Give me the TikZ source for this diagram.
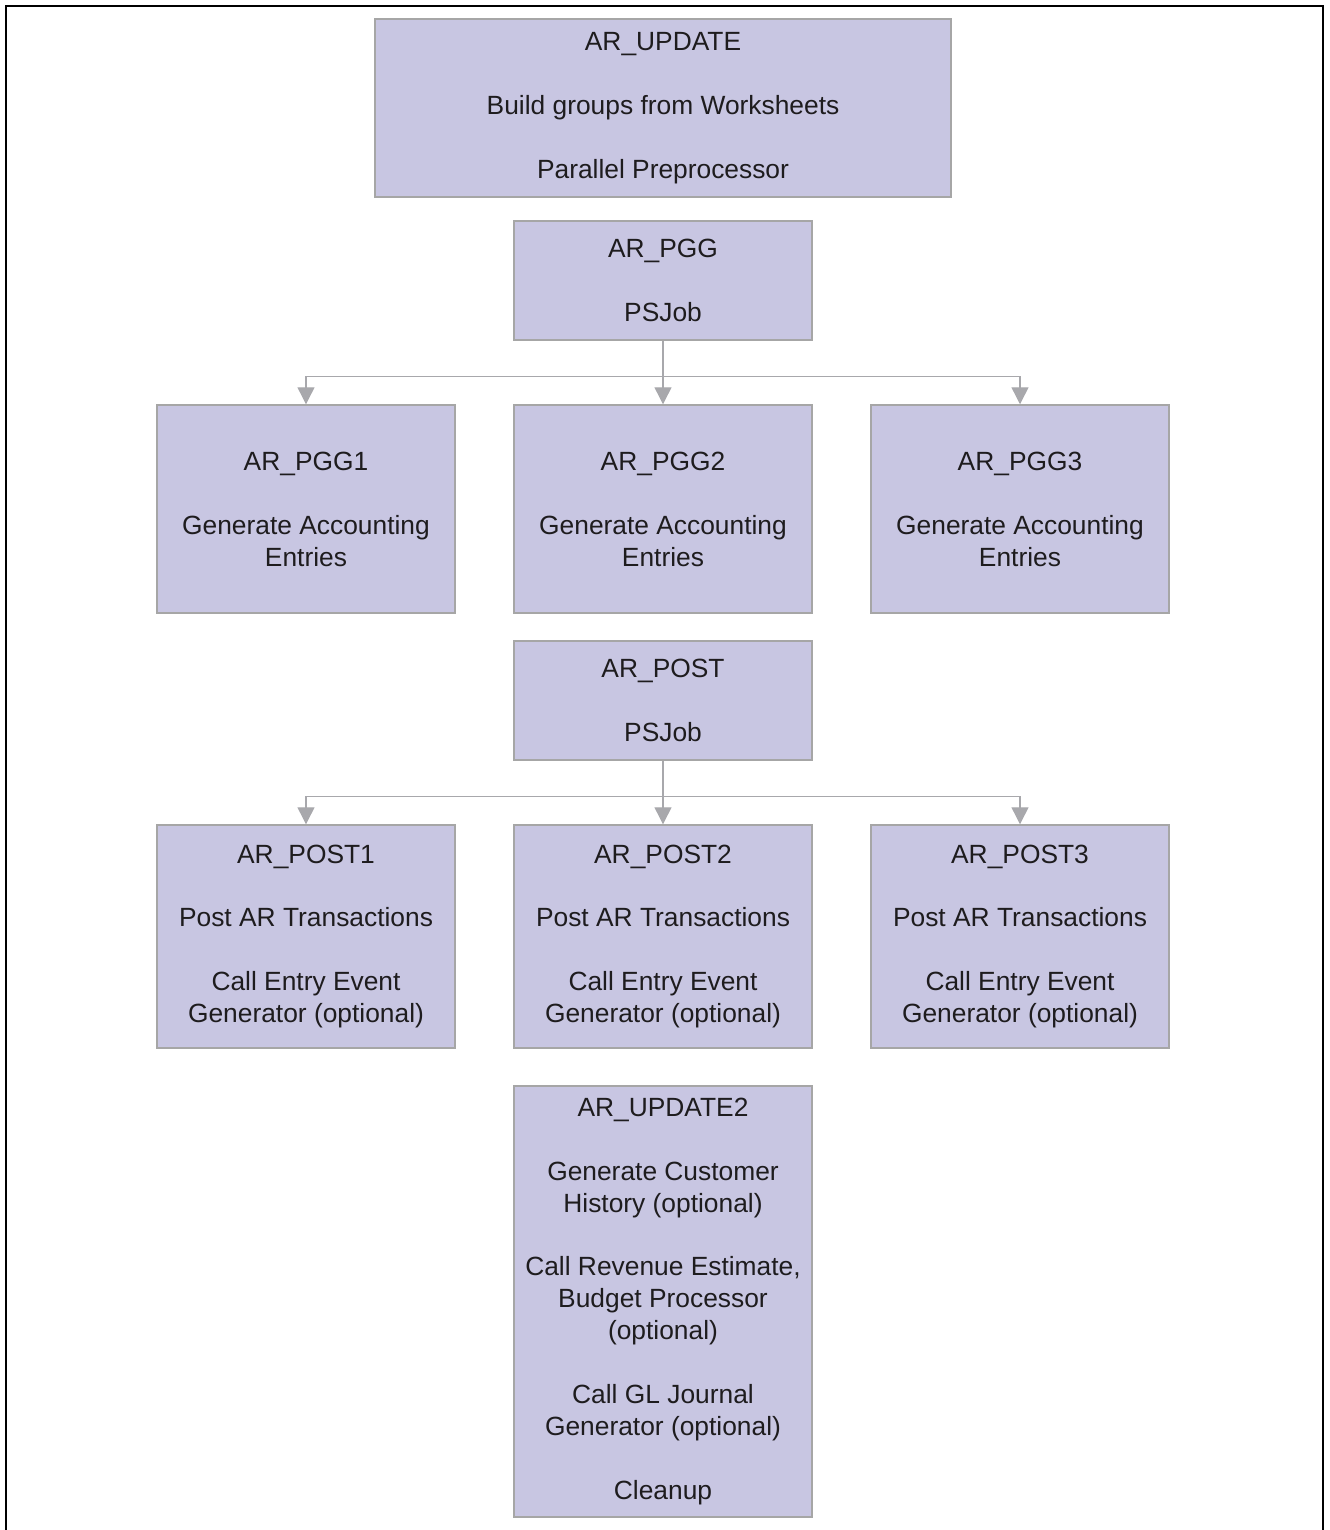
\documentclass[tikz,border=0pt]{standalone}
\usepackage{fontspec}
\setmainfont{Liberation Sans}
\usetikzlibrary{arrows.meta}
\definecolor{boxfill}{RGB}{200,198,226}
\definecolor{boxline}{RGB}{166,166,166}
\definecolor{arrline}{RGB}{168,168,172}
\definecolor{txt}{RGB}{30,28,30}
\def\gap{\\[18.2pt]}
\tikzset{
	job/.style={draw=boxline, line width=0.8pt, fill=boxfill, text=txt, align=center,
		font=\fontsize{15}{18.2}\selectfont, inner sep=0pt, minimum width=5.96cm},
	arr/.style={draw=arrline, line width=0.75pt, -{Triangle[length=0.34cm,width=0.34cm]}}
}

\begin{document}
\begin{tikzpicture}
		%%%%% START %%%%%
		\useasboundingbox (0, 0) rectangle (26.58, 30.6);
		\draw[line width=0.04cm] (0.12, 0) -- (0.12, 30.48) -- (26.46, 30.48) -- (26.46, 0);
		
		\node[job, minimum width=11.52cm, minimum height=3.56cm] (upd) at (13.26, 28.44)
			{AR\_UPDATE\gap Build groups from Worksheets\gap Parallel Preprocessor};
		
		\node[job, minimum height=2.38cm] (pgg) at (13.26, 24.99) {AR\_PGG\gap PSJob};
		
		\node[job, minimum height=4.16cm] (pgg1) at (6.12, 20.42) {AR\_PGG1\gap Generate Accounting\\Entries};
		\node[job, minimum height=4.16cm] (pgg2) at (13.26, 20.42) {AR\_PGG2\gap Generate Accounting\\Entries};
		\node[job, minimum height=4.16cm] (pgg3) at (20.40, 20.42) {AR\_PGG3\gap Generate Accounting\\Entries};
		
		\node[job, minimum height=2.38cm] (post) at (13.26, 16.59) {AR\_POST\gap PSJob};
		
		\node[job, minimum height=4.46cm] (post1) at (6.12, 11.87)
			{AR\_POST1\gap Post AR Transactions\gap Call Entry Event\\Generator (optional)};
		\node[job, minimum height=4.46cm] (post2) at (13.26, 11.87)
			{AR\_POST2\gap Post AR Transactions\gap Call Entry Event\\Generator (optional)};
		\node[job, minimum height=4.46cm] (post3) at (20.40, 11.87)
			{AR\_POST3\gap Post AR Transactions\gap Call Entry Event\\Generator (optional)};
		
		\node[job, minimum height=8.62cm] (upd2) at (13.26, 4.57)
			{AR\_UPDATE2\gap Generate Customer\\History (optional)\gap Call Revenue Estimate,\\Budget Processor\\(optional)\gap Call GL Journal\\Generator (optional)\gap Cleanup};
		
		% fan out of the two PSJobs
		\draw[arr] (pgg.south) -- (pgg2.north);
		\draw[arr] (pgg.south) -- ++(0, -0.72) -| (pgg1.north);
		\draw[arr] (pgg.south) -- ++(0, -0.72) -| (pgg3.north);
		
		\draw[arr] (post.south) -- (post2.north);
		\draw[arr] (post.south) -- ++(0, -0.72) -| (post1.north);
		\draw[arr] (post.south) -- ++(0, -0.72) -| (post3.north);
		%%%%% END %%%%%
\end{tikzpicture}
\end{document}
